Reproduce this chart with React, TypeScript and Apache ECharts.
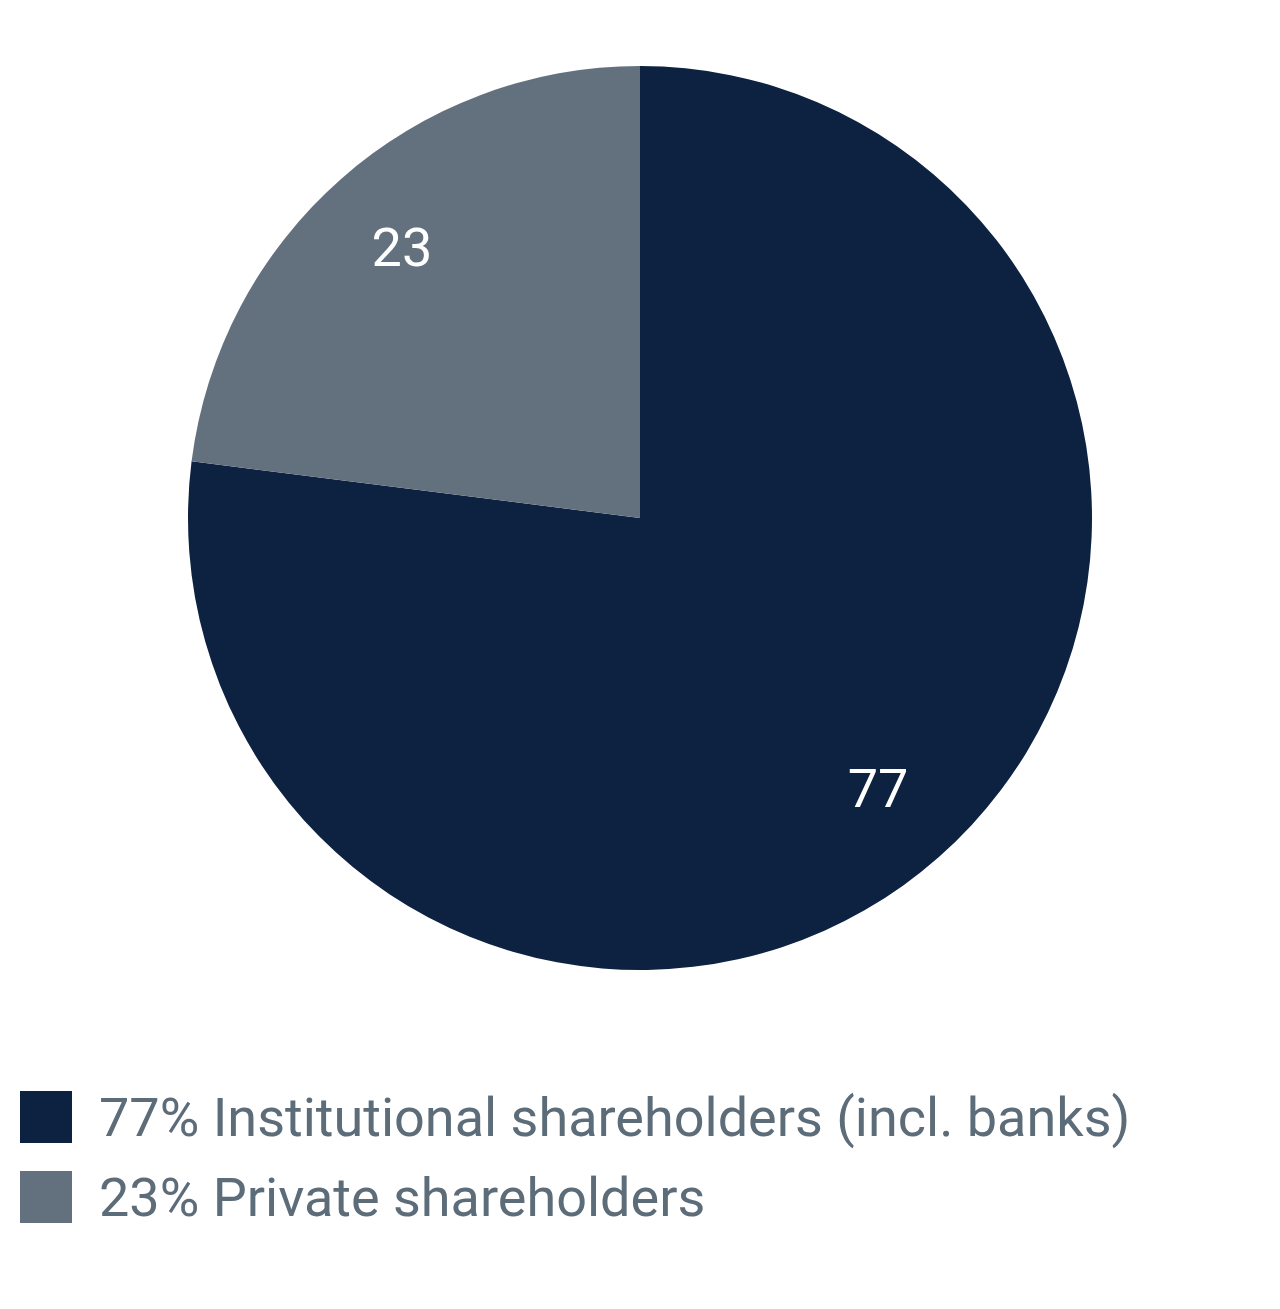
import React, { useEffect, useRef } from "react";
import * as echarts from "echarts";

const categories = ["Institutional shareholders (incl. banks)", "Private shareholders"];
const values = [77, 23];
const colors = ["#0d2240", "#63717e"];

export default function App() {
  const ref = useRef<HTMLDivElement>(null);
  useEffect(() => {
    document.body.style.margin = "0";
    const chart = echarts.init(ref.current!, null, { renderer: "svg" });
    const data = categories.map((name, i) => ({ name, value: values[i], itemStyle: { color: colors[i] } }));
    chart.setOption({
      animation: false,
      backgroundColor: "#ffffff",
      legend: {
        orient: "vertical",
        left: 20,
        top: 1090,
        padding: 0,
        icon: "rect",
        itemWidth: 52,
        itemHeight: 52,
        itemGap: 26,
        data: categories,
        formatter: (name: string) => {
          const i = categories.indexOf(name);
          return `${values[i]}% ${name}`;
        },
        textStyle: { fontFamily: "Roboto", fontSize: 54, color: "#5d6c79", padding: [0, 0, 0, 22] },
        selectedMode: false,
      },
      series: [
        {
          type: "pie",
          center: [640, 518],
          radius: [0, 452],
          startAngle: 90,
          clockwise: true,
          label: { show: false },
          labelLine: { show: false },
          silent: true,
          data,
        },
        {
          type: "pie",
          center: [640, 518],
          radius: [262, 452],
          startAngle: 90,
          clockwise: true,
          silent: true,
          itemStyle: { color: "rgba(0,0,0,0)" },
          label: {
            show: true,
            position: "inside",
            formatter: "{c}",
            color: "#ffffff",
            fontFamily: "Roboto",
            fontSize: 54,
          },
          labelLine: { show: false },
          data: categories.map((name, i) => ({ name, value: values[i], itemStyle: { color: "rgba(0,0,0,0)" } })),
        },
      ],
    });
    return () => chart.dispose();
  }, []);
  return <div ref={ref} style={{ width: 1280, height: 1309 }} />;
}
